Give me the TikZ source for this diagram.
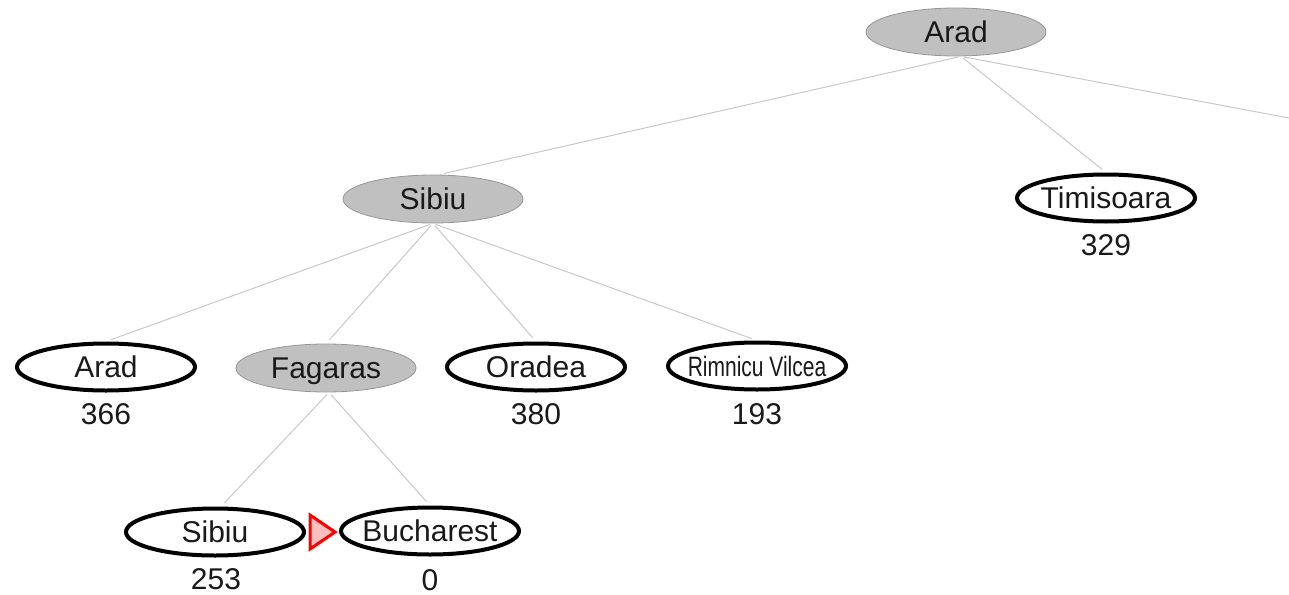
\documentclass[tikz,border=0pt]{standalone}
\usepackage{fontspec}
\setmainfont{Liberation Sans}
\usetikzlibrary{shapes.geometric}
\definecolor{nodegray}{RGB}{192,192,192}
\definecolor{rimgray}{RGB}{150,150,150}
\definecolor{edgegray}{RGB}{200,200,200}
\definecolor{txt}{RGB}{25,25,25}
\newcommand\ctxt[1]{\makebox[0pt]{#1}}
\tikzset{
  openbox/.style={ellipse, draw=black, line width=4pt, fill=white,
    minimum width=178pt, minimum height=47pt, inner sep=0pt,
    text height=21.5pt, text depth=0pt, text=txt,
    font=\fontsize{30}{36}\selectfont},
  closedbox/.style={ellipse, draw=rimgray, line width=0.8pt, fill=nodegray,
    minimum width=180pt, minimum height=48pt, inner sep=0pt,
    text height=21.5pt, text depth=0pt, text=txt,
    font=\fontsize{30}{36}\selectfont},
  hval/.style={inner sep=0pt, text height=21.5pt, text depth=0pt, text=txt,
    font=\fontsize{30}{36}\selectfont},
  treeedge/.style={draw=edgegray, line width=1pt, shorten <=3pt, shorten >=5pt}
}
\begin{document}
\begin{tikzpicture}[x=1pt,y=-1pt]
\useasboundingbox (0,0) rectangle (1289,594);
% nodes
\node[closedbox] (arad0) at (956,32) {\ctxt{Arad}};
\node[closedbox] (sibiu1) at (433,199) {\ctxt{Sibiu}};
\node[openbox] (timi) at (1106,198) {\ctxt{Timisoara}};
\node[openbox] (arad2) at (106,367) {\ctxt{Arad}};
\node[closedbox] (fag) at (326,368) {\ctxt{Fagaras}};
\node[openbox] (orad) at (536,367) {\ctxt{Oradea}};
\node[openbox] (rim) at (757,366) {\ctxt{\fontsize{28}{34}\selectfont\scalebox{0.75}[1]{Rimnicu Vilcea}}};
\node[openbox] (sib3) at (215,532) {\ctxt{Sibiu}};
\node[openbox] (buch) at (430,531) {\ctxt{Bucharest}};
\coordinate (offright) at (1289,118);
% heuristic values
\node[hval] (h329) at (1106,245) {329};
\node[hval] (h366) at (106,414) {366};
\node[hval] (h380) at (536,414) {380};
\node[hval] (h193) at (757,414) {193};
\node[hval] (h253) at (216,579) {253};
\node[hval] (h0) at (430,580) {0};
% edges
\begin{scope}[on background layer/.style={}]
\draw[treeedge] ([xshift=5pt]arad0.south) -- ([xshift=6pt]sibiu1.north);
\draw[treeedge] ([xshift=5pt]arad0.south) -- (timi.north);
\draw[treeedge, shorten >=0pt] ([xshift=5pt]arad0.south) -- (offright);
\draw[treeedge] (sibiu1.south) -- (arad2.north);
\draw[treeedge] (sibiu1.south) -- (fag.north);
\draw[treeedge] (sibiu1.south) -- (orad.north);
\draw[treeedge] (sibiu1.south) -- (rim.north);
\draw[treeedge] ([xshift=3pt]fag.south) -- ([xshift=6pt]sib3.north);
\draw[treeedge] ([xshift=3pt]fag.south) -- (buch.north);
\end{scope}
% red marker
\draw[red, line width=3pt, fill=red!25, line join=miter] (310,515) -- (335,532) -- (310,549) -- cycle;
\end{tikzpicture}
\end{document}
